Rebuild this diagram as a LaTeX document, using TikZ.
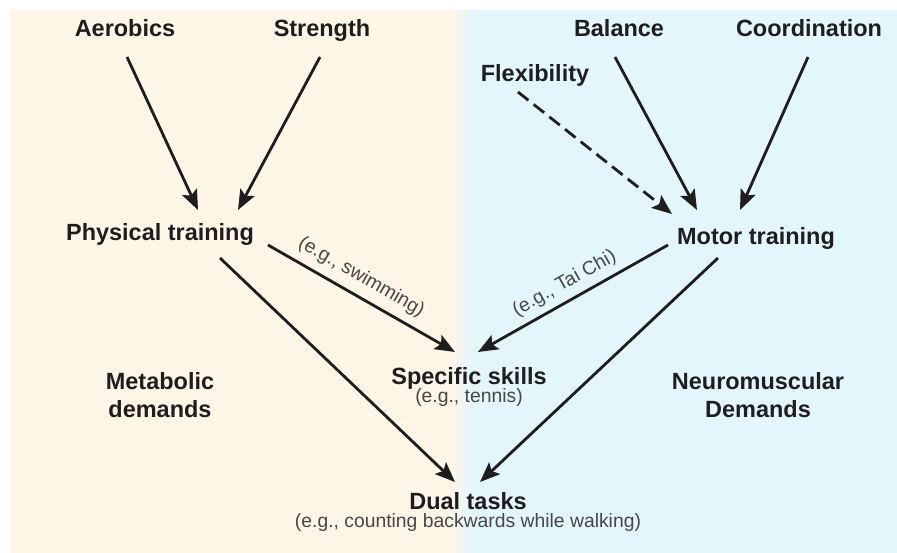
\documentclass[tikz,border=0pt]{standalone}
\usepackage{fontspec}
\setmainfont{Liberation Sans}
\usetikzlibrary{arrows.meta,calc}
\definecolor{warm}{HTML}{FFF6E7}
\definecolor{cool}{HTML}{E3F6FC}
\definecolor{ink}{HTML}{1E1E1E}
\definecolor{note}{HTML}{474747}

\begin{document}
\begin{tikzpicture}[x=0.75pt,y=-0.75pt,
  item/.style={font=\fontsize{17.6}{21}\selectfont\bfseries, text=ink, inner sep=0pt, text height=12.6pt, text depth=0pt},
  area/.style={font=\fontsize{17.6}{21}\selectfont\bfseries, text=ink, inner sep=0pt, align=center},
  eg/.style={font=\fontsize{14.5}{16}\selectfont, text=note, inner sep=0pt},
  link/.style={draw=ink, line width=2.1pt, -{Stealth[length=15pt,width=12pt,inset=3pt]}}]
\useasboundingbox (0,0) rectangle (897,553);
% metabolic side, neuromuscular side
\fill[warm] (10,10) rectangle (452.5,553);
\shade[left color=warm, right color=cool] (452,10) rectangle (472,553);
\fill[cool] (471.5,10) rectangle (897,553);

\node[item] (1) at (125,28) {Aerobics};
\node[item] (2) at (322,28) {Strength};
\node[item] (3) at (619,28) {Balance};
\node[item] (4) at (809,28) {Coordination};
\node[item] (5) at (535,73) {Flexibility};
\node[item] (6) at (160,232) {Physical training};
\node[item] (7) at (756,236) {Motor training};
\node[item, label={[eg,label distance=3pt]below:(e.g., tennis)}] (8) at (469,376) {Specific skills};
\node[item, label={[eg,label distance=3pt]below:(e.g., counting backwards while walking)}] (9) at (468,501) {Dual tasks};
\node[area] (10) at (160,395) {Metabolic\\demands};
\node[area] (11) at (758,395) {Neuromuscular\\Demands};

\path[link] ($(1)+(2,29)$) -- ($(6)+(38,-22)$);
\path[link] ($(2)+(-2,29)$) -- ($(6)+(78,-22)$);
\path[link] ($(3)+(-4,29)$) -- ($(7)+(-59,-26)$);
\path[link] ($(4)+(-1,29)$) -- ($(7)+(-16,-26)$);
\path[link,dashed,dash pattern=on 10pt off 5pt] ($(5)+(-17,19)$) -- ($(7)+(-84,-22)$);
\path[link] ($(6)+(108,13)$) -- node[eg,sloped,above=6pt,pos=0.45] {(e.g., swimming)} ($(8)+(-14,-24)$);
\path[link] ($(7)+(-88,9)$) -- node[eg,sloped,above=5pt] {(e.g., Tai Chi)} ($(8)+(9,-24)$);
\path[link] ($(6)+(60,26)$) -- ($(9)+(-13,-19)$);
\path[link] ($(7)+(-38,22)$) -- ($(9)+(12,-19)$);
\end{tikzpicture}
\end{document}
